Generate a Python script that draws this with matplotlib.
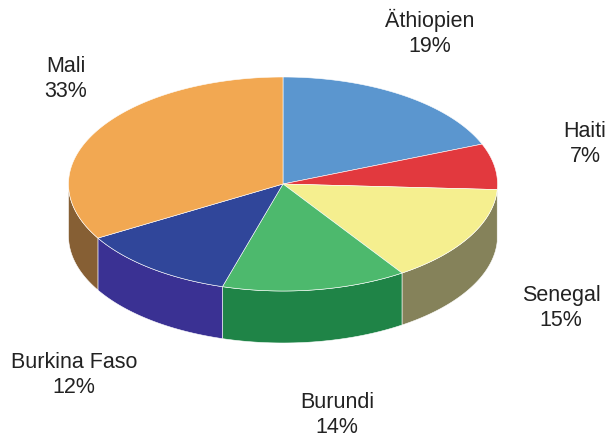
import numpy as np
import matplotlib.pyplot as plt
from matplotlib.patches import Polygon

labels = ["Äthiopien", "Haiti", "Senegal", "Burundi", "Burkina Faso", "Mali"]
values = [18.9, 6.9, 14.8, 13.9, 12.0, 33.4]
top_colors = ["#5b96cf", "#e2393e", "#f5ef8f", "#4db96d", "#30469a", "#f2a852"]
side_colors = ["#3e6a94", "#9c2a2d", "#85825a", "#1f8447", "#3a3193", "#865f34"]
# baseline of the name line for each label
label_pos = [(430, 27), (585, 137), (561, 301), (337, 408), (74, 368), (66, 72)]

cx, cy = 283, 184
rx, ry = 214.5, 107
depth = 52

def ellipse(t, dy=0):
    t = np.radians(t)
    return np.column_stack([cx + rx * np.sin(t), cy - ry * np.cos(t) + dy])

fig = plt.figure(figsize=(6.11, 4.37), dpi=100)
ax = fig.add_axes([0, 0, 1, 1])
ax.set_xlim(0, 611)
ax.set_ylim(437, 0)
ax.axis("off")

bounds = np.concatenate([[0], np.cumsum(values)]) / sum(values) * 360

# side walls (front half only)
for i in range(len(values)):
    a = max(bounds[i], 90)
    b = min(bounds[i + 1], 270)
    if b <= a:
        continue
    t = np.linspace(a, b, 100)
    pts = np.vstack([ellipse(t), ellipse(t[::-1], depth)])
    ax.add_patch(Polygon(pts, closed=True, facecolor=side_colors[i],
                         edgecolor="white", linewidth=0.4))

# top wedges
for i in range(len(values)):
    t = np.linspace(bounds[i], bounds[i + 1], 200)
    pts = np.vstack([[cx, cy], ellipse(t)])
    ax.add_patch(Polygon(pts, closed=True, facecolor=top_colors[i],
                         edgecolor="white", linewidth=0.4))

for i in range(len(values)):
    x, y = label_pos[i]
    pct = round(values[i] / sum(values) * 100)
    ax.text(x, y, labels[i], ha="center", va="baseline",
            fontsize=15.5, color="#222222", family="Liberation Sans")
    ax.text(x, y + 25, f"{pct}%", ha="center", va="baseline",
            fontsize=15.5, color="#222222", family="Liberation Sans")

fig.savefig("out.png", dpi=100)
